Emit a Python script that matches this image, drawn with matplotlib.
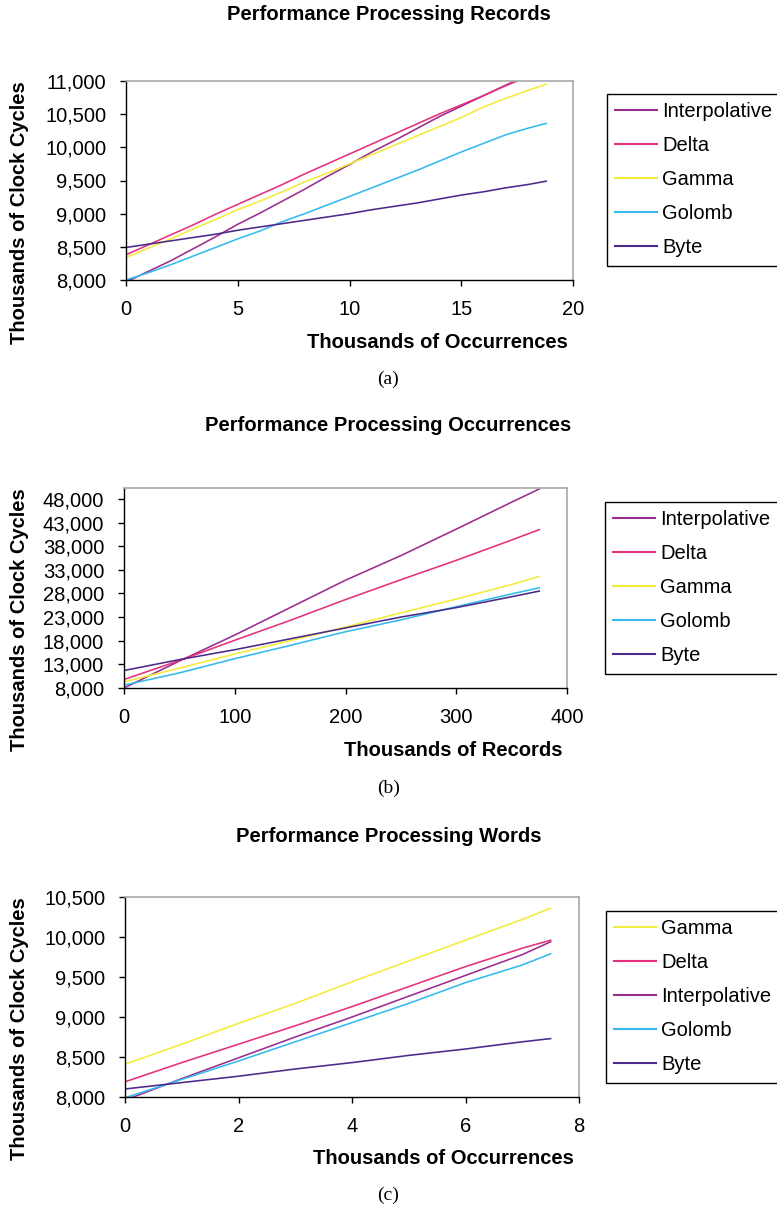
import matplotlib
matplotlib.use("Agg")
import matplotlib.pyplot as plt
from matplotlib.lines import Line2D
from matplotlib.ticker import StrMethodFormatter

W, H = 777, 1211

# =============================================================================
# Data
# =============================================================================
# (a) Performance Processing Records
xa = [0, 1, 2, 3, 4, 5, 6, 7, 8, 9, 10, 11, 12, 13, 14, 15, 16, 17, 18, 18.8]
xa_top = [0, 1, 2, 3, 4, 5, 6, 7, 8, 9, 10, 11, 12, 13, 14, 15, 16, 17, 17.5]
a_interp = [7970, 8130, 8290, 8470, 8650, 8840, 9010, 9190, 9370, 9560, 9740,
            9930, 10100, 10280, 10460, 10620, 10780, 10940, 11010]
a_delta = [8380, 8530, 8680, 8830, 8990, 9140, 9290, 9440, 9600, 9750, 9900,
           10050, 10200, 10350, 10500, 10640, 10780, 10930, 11000]
a_gamma = [8340, 8480, 8620, 8770, 8910, 9060, 9190, 9330, 9480, 9610, 9750,
           9890, 10030, 10170, 10310, 10450, 10610, 10740, 10860, 10950]
a_golomb = [8000, 8110, 8230, 8360, 8490, 8620, 8740, 8880, 9000, 9130, 9260,
            9390, 9520, 9650, 9790, 9930, 10060, 10190, 10290, 10360]
a_byte = [8490, 8540, 8590, 8640, 8690, 8750, 8800, 8850, 8900, 8950, 9000,
          9060, 9110, 9160, 9220, 9280, 9330, 9390, 9440, 9490]

# (b) Performance Processing Occurrences
xb = [0, 50, 100, 150, 200, 250, 300, 350, 375]
b_interp = [8000, 13700, 19200, 25000, 30800, 36000, 41600, 47300, 50100]
b_delta = [9800, 13800, 18100, 22300, 26700, 30900, 35000, 39300, 41500]
b_gamma = [9300, 12200, 15200, 18000, 20900, 23900, 26800, 29900, 31600]
b_golomb = [8600, 11200, 14200, 17000, 19900, 22400, 25200, 27900, 29200]
b_byte = [11700, 14000, 16100, 18400, 20700, 23000, 25000, 27300, 28500]

# (c) Performance Processing Words
xc = [0, 1, 2, 3, 4, 5, 6, 7, 7.5]
c_gamma = [8410, 8660, 8920, 9170, 9440, 9700, 9960, 10220, 10360]
c_delta = [8190, 8430, 8660, 8890, 9130, 9380, 9630, 9860, 9960]
c_interp = [7960, 8230, 8490, 8750, 9000, 9260, 9520, 9780, 9940]
c_golomb = [7990, 8220, 8450, 8690, 8930, 9170, 9430, 9650, 9790]
c_byte = [8100, 8180, 8260, 8350, 8430, 8520, 8600, 8690, 8730]

COLORS = {
    "Interpolative": "#9B2D8E",
    "Delta": "#E6307F",
    "Gamma": "#F2EC3A",
    "Golomb": "#33BBEE",
    "Byte": "#4B2A8A",
}

plt.rcParams["font.family"] = ["Liberation Sans", "DejaVu Sans"]
FS = 14.5


def _rect(left, top, right, bottom):
    """Pixel box to figure fraction rect."""
    return [left / W, 1 - bottom / H, (right - left) / W, (bottom - top) / H]


def _panel(fig, box, title, title_y, xlabel, caption, caption_y,
           series, xlim, xticks, ylim, yticks, legend_box):
    left, top, right, bottom = box
    ax = fig.add_axes(_rect(left, top, right, bottom))
    for name, xs, ys in series:
        ax.plot(xs, ys, color=COLORS[name], lw=1.15)
    ax.set_xlim(*xlim)
    ax.set_ylim(*ylim)
    ax.set_xticks(xticks)
    ax.set_yticks(yticks)
    ax.yaxis.set_major_formatter(StrMethodFormatter("{x:,.0f}"))
    ax.tick_params(direction="out", length=4.3, width=1.0, labelsize=FS,
                   pad=10, color="black")
    for side in ("top", "right"):
        ax.spines[side].set_color("#A8A8A8")
        ax.spines[side].set_linewidth(1.2)
    for side in ("left", "bottom"):
        ax.spines[side].set_color("black")
        ax.spines[side].set_linewidth(1.0)

    fig.text(0.5, 1 - title_y / H, title, ha="center", va="center",
             fontsize=FS, fontweight="bold")
    fig.text((right - 5) / W, 1 - (bottom + 62) / H, xlabel, ha="right",
             va="center", fontsize=FS, fontweight="bold")
    fig.text(20 / W, 1 - top / H, "Thousands of Clock Cycles", rotation=90,
             ha="center", va="top", fontsize=FS, fontweight="bold")
    fig.text(0.5, 1 - caption_y / H, caption, ha="center", va="center",
             fontsize=14, family="Liberation Serif")

    handles = [Line2D([], [], color=COLORS[n], lw=1.5) for n, _, _ in
               sorted(series, key=lambda s: legend_box[2].index(s[0]))]
    fig.legend(handles, legend_box[2], loc="upper left",
               bbox_to_anchor=(legend_box[0] / W, 1 - legend_box[1] / H),
               bbox_transform=fig.transFigure, fontsize=FS, frameon=True,
               fancybox=False, edgecolor="black", borderaxespad=0,
               borderpad=0.4, labelspacing=0.75, handlelength=2.1,
               handletextpad=0.25, framealpha=1)
    fig.legends[-1].get_frame().set_linewidth(1.0)
    return ax


fig = plt.figure(figsize=(W / 100, H / 100), dpi=100)

_panel(fig, (126, 81, 573, 280), "Performance Processing Records", 14,
       "Thousands of Occurrences", "(a)", 379,
       [("Interpolative", xa_top, a_interp), ("Delta", xa_top, a_delta),
        ("Gamma", xa, a_gamma), ("Golomb", xa, a_golomb),
        ("Byte", xa, a_byte)],
       (0, 20), [0, 5, 10, 15, 20], (8000, 11000),
       [8000, 8500, 9000, 9500, 10000, 10500, 11000],
       (607, 94, ["Interpolative", "Delta", "Gamma", "Golomb", "Byte"]))

_panel(fig, (124, 488, 567, 688), "Performance Processing Occurrences", 425,
       "Thousands of Records", "(b)", 788,
       [("Interpolative", xb, b_interp), ("Delta", xb, b_delta),
        ("Gamma", xb, b_gamma), ("Golomb", xb, b_golomb),
        ("Byte", xb, b_byte)],
       (0, 400), [0, 100, 200, 300, 400], (8000, 50300),
       [8000, 13000, 18000, 23000, 28000, 33000, 38000, 43000, 48000],
       (605, 502, ["Interpolative", "Delta", "Gamma", "Golomb", "Byte"]))

_panel(fig, (125, 897, 579, 1097), "Performance Processing Words", 836,
       "Thousands of Occurrences", "(c)", 1195,
       [("Gamma", xc, c_gamma), ("Delta", xc, c_delta),
        ("Interpolative", xc, c_interp), ("Golomb", xc, c_golomb),
        ("Byte", xc, c_byte)],
       (0, 8), [0, 2, 4, 6, 8], (8000, 10500),
       [8000, 8500, 9000, 9500, 10000, 10500],
       (606, 911, ["Gamma", "Delta", "Interpolative", "Golomb", "Byte"]))

fig.savefig("out.png", dpi=100)
